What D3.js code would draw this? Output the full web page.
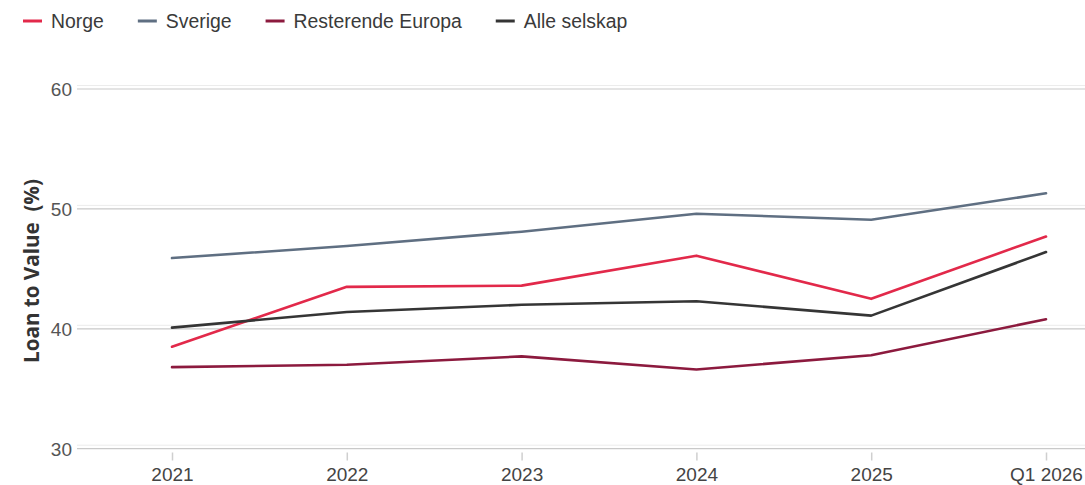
<!DOCTYPE html>
<html>
<head>
<meta charset="utf-8">
<script src="https://cdn.jsdelivr.net/npm/d3@7"></script>
<style>
  html, body { margin: 0; padding: 0; background: #ffffff; }
  svg { display: block; }
</style>
</head>
<body>
<svg id="chart" width="1085" height="485"></svg>
<script>
// Loan to Value (%) per region, yearly with latest quarter
const periods = ["2021", "2022", "2023", "2024", "2025", "Q1 2026"];
const norge = [38.5, 43.5, 43.6, 46.1, 42.5, 47.7];
const sverige = [45.9, 46.9, 48.1, 49.6, 49.1, 51.3];
const resterendeEuropa = [36.8, 37.0, 37.7, 36.6, 37.8, 40.8];
const alleSelskap = [40.1, 41.4, 42.0, 42.3, 41.1, 46.4];
const yTicks = [30, 40, 50, 60];

const seriesNames = ["Norge", "Sverige", "Resterende Europa", "Alle selskap"];
const seriesValues = [norge, sverige, resterendeEuropa, alleSelskap];
const seriesColors = ["#e2294a", "#5f6f82", "#8c1a3e", "#353535"];

const series = seriesNames.map((name, i) => ({
  name, color: seriesColors[i], values: seriesValues[i]
}));

const svg = d3.select("#chart");
const W = 1085, H = 485;

const x = d3.scalePoint().domain(periods).range([172, 1046]);
const y = d3.scaleLinear().domain([30, 60]).range([448.7, 89]);

const axisFont = "'Liberation Sans', Arial, sans-serif";

// horizontal grid with a faint second line just above each rule
const grid = svg.append("g");
grid.selectAll("line.ghost").data(yTicks).join("line")
  .attr("class", "ghost")
  .attr("x1", 77).attr("x2", W)
  .attr("y1", d => y(d) - 3.5).attr("y2", d => y(d) - 3.5)
  .attr("stroke", "#ececec").attr("stroke-width", 1);
grid.selectAll("line.rule").data(yTicks).join("line")
  .attr("class", "rule")
  .attr("x1", 77).attr("x2", W)
  .attr("y1", d => y(d)).attr("y2", d => y(d))
  .attr("stroke", "#c9c9c9").attr("stroke-width", 1.2);

// y axis labels
const yAxis = svg.append("g")
  .attr("transform", "translate(77,0)")
  .call(d3.axisLeft(y).tickValues(yTicks).tickSize(0).tickPadding(5));
yAxis.select(".domain").remove();
yAxis.selectAll("text")
  .attr("font-family", axisFont)
  .attr("font-size", 19)
  .attr("fill", "#555")
  .attr("dy", "0.34em");

// x axis
const xAxis = svg.append("g")
  .attr("transform", "translate(0,452.5)")
  .call(d3.axisBottom(x).tickSize(8).tickPadding(6));
xAxis.select(".domain").remove();
xAxis.selectAll(".tick line")
  .attr("stroke", "#cfcfcf").attr("stroke-width", 1.5);
xAxis.selectAll("text")
  .attr("font-family", axisFont)
  .attr("font-size", 19)
  .attr("fill", "#444")
  .attr("y", 28.5).attr("dy", 0);

// y axis title
svg.append("text")
  .attr("transform", "translate(39,271) rotate(-90)")
  .attr("text-anchor", "middle")
  .attr("font-family", "'Open Sans', 'Noto Sans', sans-serif")
  .attr("font-weight", 700)
  .attr("font-size", 20.6)
  .attr("fill", "#333")
  .attr("xml:space", "preserve")
  .text("Loan to Value  (%)");

// lines
const line = d3.line()
  .x((d, i) => x(periods[i]))
  .y(d => y(d));

svg.append("g").selectAll("path").data(series).join("path")
  .attr("d", d => line(d.values))
  .attr("fill", "none")
  .attr("stroke", d => d.color)
  .attr("stroke-width", 2.6)
  .attr("stroke-linejoin", "round")
  .attr("stroke-linecap", "round");

// legend
const legend = svg.append("g");
let lx = 23;
series.forEach(s => {
  const g = legend.append("g").attr("transform", `translate(${lx},0)`);
  g.append("line")
    .attr("x1", 0).attr("x2", 19)
    .attr("y1", 21).attr("y2", 21)
    .attr("stroke", s.color).attr("stroke-width", 3);
  const t = g.append("text")
    .attr("x", 28).attr("y", 27.8)
    .attr("font-family", axisFont)
    .attr("font-size", 19.4)
    .attr("fill", "#3a3a3a")
    .text(s.name);
  lx += 28 + t.node().getComputedTextLength() + 34;
});
</script>
</body>
</html>
